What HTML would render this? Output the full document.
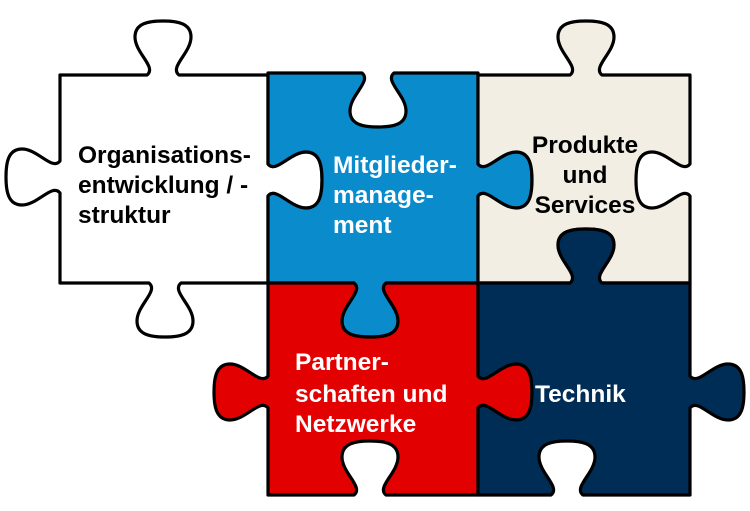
<!DOCTYPE html>
<html><head><meta charset="utf-8"><style>
html,body{margin:0;padding:0;background:#fff;}
svg{display:block;}
text{font-family:"Liberation Sans",Arial,sans-serif;font-weight:bold;font-size:24.5px;}
</style></head><body>
<svg id="s" width="750" height="511" viewBox="0 0 750 511" xmlns="http://www.w3.org/2000/svg">
<g id="pieces" stroke="#000" stroke-width="3.2" stroke-linejoin="round"></g>
<text x="78" y="163" fill="#000">Organisations-</text>
<text x="78" y="193" fill="#000">entwicklung / -</text>
<text x="78" y="223" fill="#000">struktur</text>
<text x="333" y="173" fill="#fff">Mitglieder-</text>
<text x="333" y="203" fill="#fff">manage-</text>
<text x="333" y="233" fill="#fff">ment</text>
<text x="585" y="153" fill="#000" text-anchor="middle">Produkte</text>
<text x="585" y="183" fill="#000" text-anchor="middle">und</text>
<text x="585" y="213" fill="#000" text-anchor="middle">Services</text>
<text x="295" y="370" fill="#fff">Partner-</text>
<text x="295" y="402" fill="#fff">schaften und</text>
<text x="295" y="432" fill="#fff">Netzwerke</text>
<text x="535" y="402" fill="#fff">Technik</text>
</svg>
<script>
function seg(c,b,s,dir,vert,D){
 D=D||54;
 function P(a,o){return vert?(b+o*s)+","+(c+a*dir):(c+a*dir)+","+(b+o*s);}
 var k=D/54;
 return " L"+P(-16,0)+" C"+P(-6,8*k)+" "+P(-28,22*k)+" "+P(-28,38*k)+
 " C"+P(-28,52*k)+" "+P(-14,D)+" "+P(0,D)+
 " C"+P(14,D)+" "+P(28,52*k)+" "+P(28,38*k)+
 " C"+P(28,22*k)+" "+P(6,8*k)+" "+P(16,0);
}
function piece(x0,x1,y0,y1,t,r,b,l,fill){
 var d="M"+x0+","+y0;
 d+=seg(t[0],y0,t[1],1,false);
 d+=" L"+x1+","+y0;
 d+=seg(r[0],x1,r[1],1,true);
 d+=" L"+x1+","+y1;
 d+=seg(b[0],y1,b[1],-1,false);
 d+=" L"+x0+","+y1;
 d+=seg(l[0],x0,l[1],-1,true);
 d+=" Z";
 return '<path d="'+d+'" fill="'+fill+'"/>';
}
var h="";
h+=piece(60,268,75,283,[163,-1],[180,1],[165,1],[177,-1],"#ffffff");
h+=piece(268,478,73,283,[378,1],[180,1],[370,1],[180,1],"#0a8bcc");
h+=piece(478,690,75,283,[586,-1],[180,-1],[586,-1],[180,1],"#f2eee4");
h+=piece(268,478,283,495,[370,1],[392,1],[370,-1],[392,-1],"#e30000");
h+=piece(478,690,283,495,[586,-1],[392,1],[567,-1],[392,1],"#002d56");
document.getElementById("pieces").innerHTML=h;
</script>
</body></html>
